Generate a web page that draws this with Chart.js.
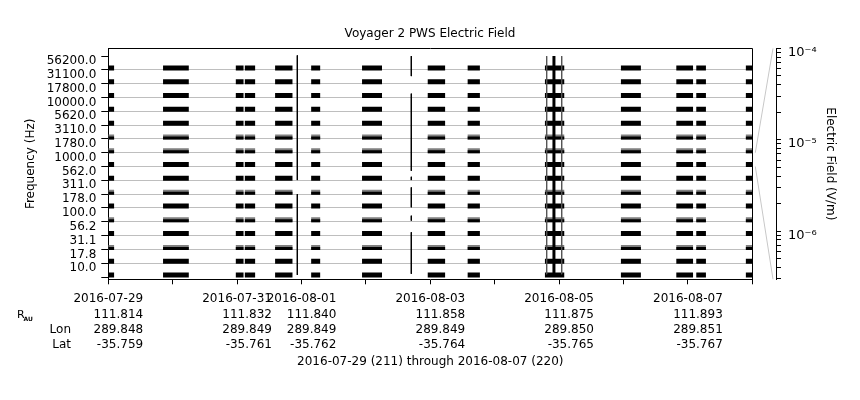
<!DOCTYPE html>
<html>
<head>
<meta charset="utf-8">
<title>Voyager 2 PWS Electric Field</title>
<script src="https://cdn.jsdelivr.net/npm/chart.js@4.4.1/dist/chart.umd.min.js"></script>
<style>
  html, body { margin: 0; padding: 0; background: #fff; }
</style>
</head>
<body>
<canvas id="pwsChart" width="860" height="400"></canvas>
<script>
// frequency channels (Hz), lowest first
const channels = ['10.0', '17.8', '31.1', '56.2', '100.0', '178.0', '311.0', '562.0',
  '1000.0', '1780.0', '3110.0', '5620.0', '10000.0', '17800.0', '31100.0', '56200.0'];

// recorded stretches, day of year 2016
const spanStart = [211.00, 211.85, 212.98, 213.12, 213.59, 214.15, 214.94, 215.96, 216.58, 217.78, 218.96, 219.82, 220.13, 220.90];
const spanEnd   = [211.09, 212.25, 213.10, 213.28, 213.86, 214.29, 215.25, 216.23, 216.77, 218.08, 219.27, 220.08, 220.28, 221.00];

// channels where the stretches come out weaker (grey top in the plot)
const weakChannels = ['31.1', '100.0', '311.0', '1780.0', '3110.0'];

// broadband bursts: day of year, and the row ranges they reach
const burstDays = [213.935, 215.705, 217.807, 217.92, 218.04];
const burstRows = [
  [[16.05, 7.02], [6.0, 0.15]],
  [[16.0, 14.55], [13.28, 7.69], [7.26, 7.02], [6.49, 5.05], [4.44, 4.08], [3.24, 0.23]],
  [[16.0, 0.2]],
  [[16.0, 0.2]],
  [[16.0, 0.2]]
];

// labelled days and the ephemeris under them
const labelDays = [211, 213, 214, 216, 218, 220];
const labelDates = ['2016-07-29', '2016-07-31', '2016-08-01', '2016-08-03', '2016-08-05', '2016-08-07'];
const rAU = ['111.814', '111.832', '111.840', '111.858', '111.875', '111.893'];
const lon = ['289.848', '289.849', '289.849', '289.849', '289.850', '289.851'];
const lat = ['-35.759', '-35.761', '-35.762', '-35.764', '-35.765', '-35.767'];

// electric field key (V/m) for one row
const fieldMin = 2.97e-7;
const fieldMax = 1e-4;
const keyChannel = '1000.0';

Chart.defaults.font.family = '"DejaVu Sans", sans-serif';
Chart.defaults.font.size = 12;
Chart.defaults.color = '#000';

const PX = 1 / 13.81; // one pixel in row units

function spanLine(level) {
  const pts = [];
  spanStart.forEach((s, i) => {
    pts.push({x: s, y: level}, {x: spanEnd[i], y: level}, {x: spanEnd[i], y: null});
  });
  return pts;
}

function lineSet(data, color, width) {
  return {
    data: data, borderColor: color, borderWidth: width, borderCapStyle: 'butt',
    pointRadius: 0, spanGaps: false, fill: false, clip: 0
  };
}

const datasets = [];

// the middle burst is the heavy one, its neighbours are faint
burstDays.forEach((d, i) => {
  const pts = [];
  burstRows[i].forEach(r => pts.push({x: d, y: r[0]}, {x: d, y: r[1]}, {x: d, y: null}));
  const faint = i === 2 || i === 4;
  datasets.push(lineSet(pts, faint ? '#555' : '#000', i === 3 ? 3 : 1));
});

// earlier datasets are painted last, so black goes before its grey backing
channels.forEach((c, j) => {
  if (weakChannels.includes(c)) {
    datasets.push(lineSet(spanLine(j + 1 * PX), '#000', 3));
    datasets.push(lineSet(spanLine(j + 2 * PX), '#808080', 5));
  } else {
    datasets.push(lineSet(spanLine(j + 2 * PX), '#000', 5));
  }
});

const supers = {'-': '\u207b', '0': '\u2070', '1': '\u00b9', '2': '\u00b2', '3': '\u00b3', '4': '\u2074',
  '5': '\u2075', '6': '\u2076', '7': '\u2077', '8': '\u2078', '9': '\u2079'};

const framePlugin = {
  id: 'frame',
  afterLayout(chart) {
    // the field key sits a little away from the plot
    chart.scales.y2.left = chart.chartArea.right + 23.7;
  },
  afterDraw(chart) {
    const {ctx, chartArea: a, scales} = chart;
    const x = scales.x, y = scales.y, k = scales.y2;
    ctx.save();
    ctx.strokeStyle = '#000';
    ctx.lineWidth = 1;
    ctx.beginPath();
    ctx.moveTo(a.left, Math.floor(a.top) + 0.5);
    ctx.lineTo(Math.round(a.right) + 0.5, Math.floor(a.top) + 0.5);
    ctx.lineTo(Math.round(a.right) + 0.5, a.bottom);
    ctx.stroke();

    // funnel from the key row to the field axis
    const row = channels.indexOf(keyChannel);
    ctx.strokeStyle = '#c8c8c8';
    ctx.beginPath();
    ctx.moveTo(a.right + 3, y.getPixelForValue(row + 1));
    ctx.lineTo(k.left - 3, k.top);
    ctx.moveTo(a.right + 3, y.getPixelForValue(row));
    ctx.lineTo(k.left - 3, k.bottom);
    ctx.stroke();

    // dates and ephemeris
    ctx.fillStyle = '#000';
    ctx.font = '12px "DejaVu Sans"';
    ctx.textBaseline = 'middle';
    const top = x.top;
    labelDays.forEach((d, i) => {
      const px = x.getPixelForValue(d);
      const w = ctx.measureText(labelDates[i]).width;
      ctx.textAlign = 'center';
      ctx.fillText(labelDates[i], px, top + 19.5);
      ctx.textAlign = 'right';
      [rAU, lon, lat].forEach((vals, r) => ctx.fillText(vals[i], px + w / 2, top + 35.5 + 15.2 * r));
    });
    ctx.textAlign = 'right';
    ctx.fillText('Lon', 71, top + 50.7);
    ctx.fillText('Lat', 71, top + 65.9);
    ctx.textAlign = 'left';
    ctx.font = '11px "DejaVu Sans"';
    ctx.fillText('R', 17, top + 35.5);
    ctx.font = 'bold 6px "DejaVu Sans"';
    ctx.fillText('AU', 23.5, top + 40.5);
    ctx.restore();
  }
};

new Chart(document.getElementById('pwsChart'), {
  type: 'line',
  data: {datasets: datasets},
  options: {
    responsive: false,
    animation: false,
    devicePixelRatio: 1,
    layout: {padding: 0},
    plugins: {
      legend: {display: false},
      tooltip: {enabled: false},
      title: {
        display: true, text: 'Voyager 2 PWS Electric Field', color: '#000',
        font: {size: 12, weight: 'normal'}, padding: {top: 27, bottom: 7}
      }
    },
    scales: {
      x: {
        type: 'linear', min: 211, max: 221,
        afterBuildTicks: s => {
          s.ticks = [];
          for (let d = 211; d <= 221; d++) s.ticks.push({value: d});
        },
        afterFit: s => { s.height = 120.7; },
        grid: {drawOnChartArea: false, tickLength: 5, tickColor: '#000'},
        border: {color: '#000'},
        ticks: {callback: () => ''},
        title: {
          display: true, text: '2016-07-29 (211) through 2016-08-07 (220)',
          color: '#000', font: {size: 12}, padding: {top: 0, bottom: 31}
        }
      },
      y: {
        type: 'linear', min: -0.1665, max: 16.557,
        afterBuildTicks: s => {
          s.ticks = [];
          for (let v = 0; v <= channels.length; v++) s.ticks.push({value: v});
        },
        afterFit: s => { s.width = 108.3; },
        grid: {
          color: c => (c.tick && c.tick.value >= 1 && c.tick.value < channels.length) ? '#bebebe' : 'rgba(0,0,0,0)',
          tickColor: '#000', tickLength: 7
        },
        border: {color: '#000'},
        ticks: {
          autoSkip: false, padding: 5, labelOffset: 5, color: '#000',
          callback: v => v >= 1 ? channels[Math.round(v) - 1] : ''
        },
        title: {display: true, text: 'Frequency (Hz)', color: '#000', font: {size: 12}, padding: {top: 24, bottom: 0}}
      },
      y2: {
        type: 'logarithmic', position: 'right', min: fieldMin, max: fieldMax,
        afterBuildTicks: s => {
          s.ticks = [];
          for (let e = -7; e <= -4; e++) {
            for (let m = 1; m <= 9; m++) {
              const v = m * Math.pow(10, e);
              if (v >= fieldMin && v <= fieldMax) s.ticks.push({value: v, major: m === 1});
            }
          }
        },
        afterFit: s => { s.width = 107.7; },
        grid: {drawOnChartArea: false, tickLength: 5, tickColor: '#000'},
        border: {color: '#000'},
        ticks: {
          autoSkip: false, padding: 7, labelOffset: 4, color: '#000',
          font: {size: 13},
          callback: v => {
            const e = Math.log10(v);
            if (Math.abs(e - Math.round(e)) > 1e-6) return '';
            return '10' + String(Math.round(e)).split('').map(ch => supers[ch]).join('');
          }
        },
        title: {display: true, text: 'Electric Field (V/m)', color: '#000', font: {size: 12}, padding: {top: 23, bottom: 0}}
      }
    }
  },
  plugins: [framePlugin]
});
</script>
</body>
</html>
